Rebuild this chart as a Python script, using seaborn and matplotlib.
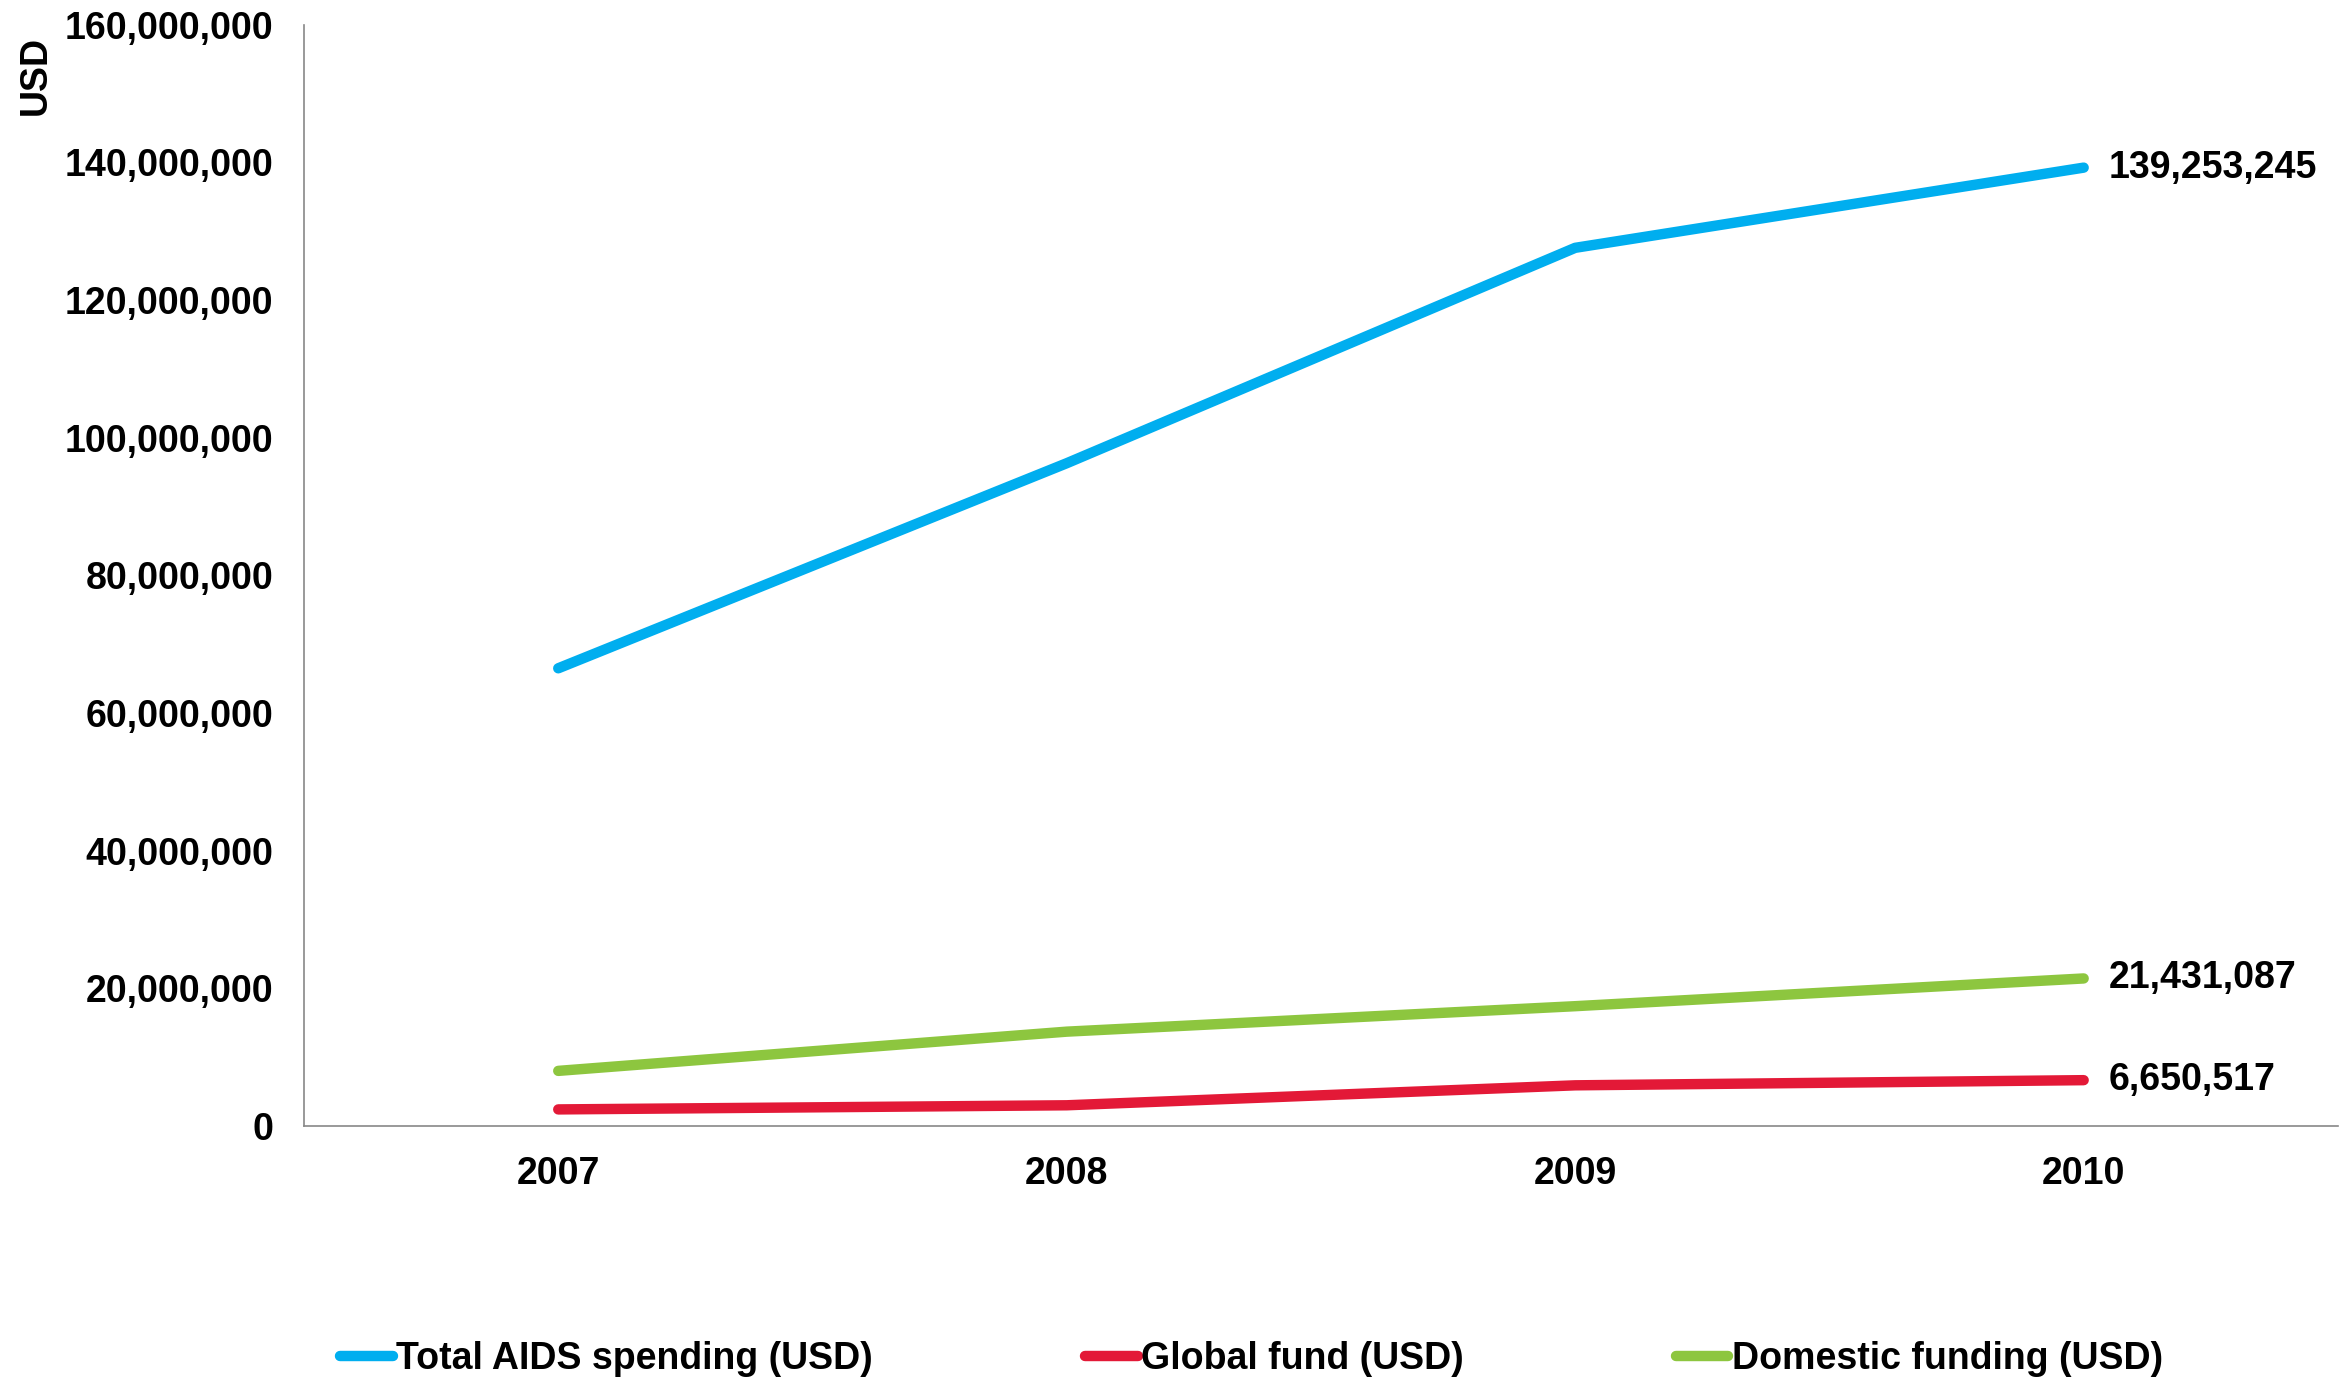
import pandas as pd
import matplotlib.pyplot as plt
import matplotlib.ticker as mticker
import seaborn as sns

years = ['2007', '2008', '2009', '2010']
total_aids = [66_500_000, 96_300_000, 127_600_000, 139_253_245]
global_fund = [2_400_000, 3_000_000, 5_900_000, 6_650_517]
domestic = [8_000_000, 13_700_000, 17_400_000, 21_431_087]
series_names = ['Total AIDS spending (USD)', 'Global fund (USD)', 'Domestic funding (USD)']
colors = ['#00AEEF', '#E31937', '#8DC63F']

sns.set_style('white')
plt.rcParams['font.family'] = ['Liberation Sans', 'DejaVu Sans']
plt.rcParams['font.weight'] = 'bold'
plt.rcParams['text.color'] = 'black'
plt.rcParams['xtick.labelcolor'] = 'black'
plt.rcParams['ytick.labelcolor'] = 'black'

df = pd.DataFrame({
    'year': years * 3,
    'pos': list(range(len(years))) * 3,
    'value': total_aids + global_fund + domestic,
    'series': [s for s in series_names for _ in years],
})

fig = plt.figure(figsize=(23.44, 13.81), dpi=100)
ax = fig.add_axes([0.1297, 0.1847, 0.8677, 0.7973])

sns.lineplot(data=df, x='pos', y='value', hue='series', hue_order=series_names,
             palette=colors, linewidth=7.5, ax=ax, legend=False,
             solid_capstyle='round', solid_joinstyle='round')

ax.set_xlim(-0.5, 3.5)
ax.set_ylim(0, 160_000_000)
ax.yaxis.set_major_locator(mticker.MultipleLocator(20_000_000))
ax.yaxis.set_major_formatter(mticker.FuncFormatter(lambda v, p: f'{int(v):,}'))
ax.set_xticks(range(len(years)))
ax.set_xticklabels(years)
ax.set_xticks([-0.5, 0.5, 1.5, 2.5, 3.5], minor=True)
ax.tick_params(axis='x', which='major', length=0, pad=22, labelsize=27)
ax.tick_params(axis='x', which='minor', length=15, width=1.2, color='#888888')
ax.tick_params(axis='y', which='major', length=11, width=1.2, color='#888888', labelsize=27, pad=11)
for lab in ax.get_xticklabels() + ax.get_yticklabels():
    lab.set_fontweight('bold')
ax.set_xlabel('')
ax.set_ylabel('')
for side in ['top', 'right']:
    ax.spines[side].set_visible(False)
for side in ['left', 'bottom']:
    ax.spines[side].set_color('#888888')
    ax.spines[side].set_linewidth(1.2)

ax.text(-0.132, 0.99, 'USD', transform=ax.transAxes, rotation=90,
        ha='center', va='top', fontsize=27, fontweight='bold')

# end-of-line value labels
for vals in [total_aids, domestic, global_fund]:
    ax.annotate(f'{vals[-1]:,}', xy=(3, vals[-1]), xytext=(18, 0),
                textcoords='offset points', ha='left', va='center',
                fontsize=27, fontweight='bold')

handles = [plt.Line2D([0], [0], color=c, linewidth=7.5, solid_capstyle='round')
           for c in colors]
fig.legend(handles, series_names, loc='center', ncol=3,
           bbox_to_anchor=(0.534, 0.016), frameon=False,
           handlelength=1.4, handletextpad=0.1, columnspacing=5.65,
           prop={'weight': 'bold', 'size': 27})

plt.savefig('out.png', dpi=100)
